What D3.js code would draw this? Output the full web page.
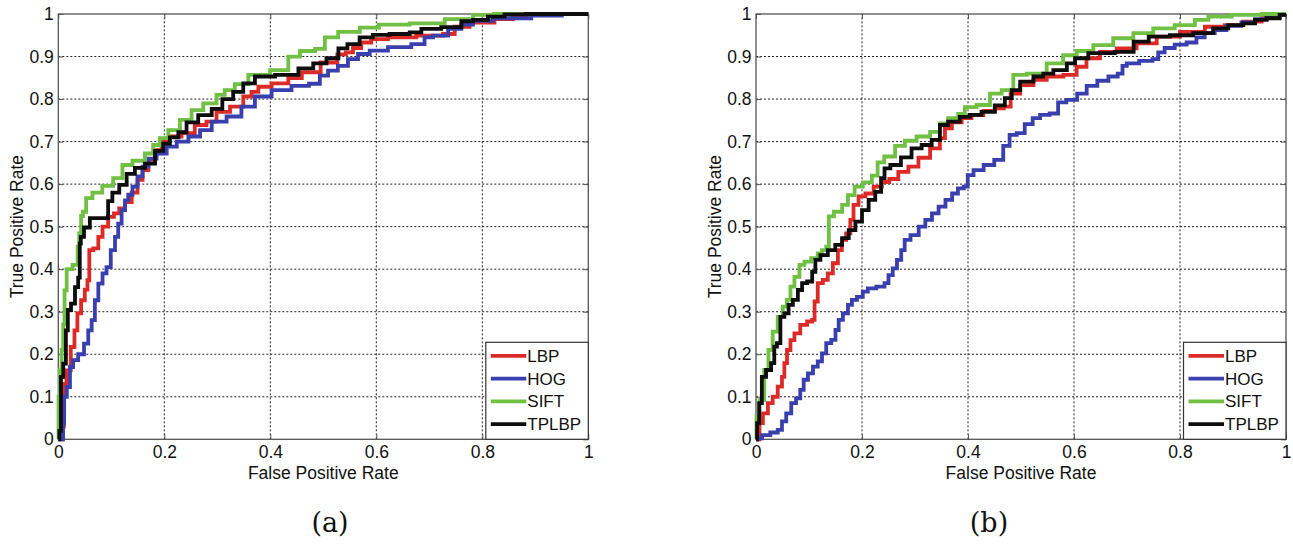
<!DOCTYPE html>
<html>
<head>
<meta charset="utf-8">
<script src="https://cdn.jsdelivr.net/npm/d3@7"></script>
<style>
  html, body { margin: 0; padding: 0; background: #fff; }
  svg { display: block; }
</style>
</head>
<body>
<svg id="chart" width="1293" height="545"></svg>
<script>
// ---- data ----------------------------------------------------------------
const seriesNames = ["LBP", "HOG", "SIFT", "TPLBP"];
const xTicks = [0, 0.2, 0.4, 0.6, 0.8, 1];
const yTicks = [0, 0.1, 0.2, 0.3, 0.4, 0.5, 0.6, 0.7, 0.8, 0.9, 1];
const xTickLabels = ["0", "0.2", "0.4", "0.6", "0.8", "1"];
const yTickLabels = ["0", "0.1", "0.2", "0.3", "0.4", "0.5", "0.6", "0.7", "0.8", "0.9", "1"];
const xTitle = "False Positive Rate";
const yTitle = "True Positive Rate";
const captions = ["(a)", "(b)"];

// panel (a) ROC points: [false positive rate, true positive rate]
const lbpA = [[0,0],[0.006,0.0],[0.009,0.03],[0.012,0.13],[0.019,0.162],[0.028,0.217],[0.033,0.256],[0.039,0.296],[0.047,0.327],[0.053,0.352],[0.057,0.374],[0.06,0.445],[0.072,0.449],[0.079,0.476],[0.088,0.5],[0.1,0.523],[0.11,0.531],[0.12,0.543],[0.132,0.558],[0.145,0.58],[0.154,0.61],[0.164,0.633],[0.176,0.657],[0.189,0.68],[0.201,0.7],[0.22,0.712],[0.245,0.72],[0.27,0.739],[0.289,0.747],[0.308,0.77],[0.34,0.782],[0.358,0.806],[0.371,0.817],[0.384,0.829],[0.421,0.837],[0.447,0.849],[0.472,0.863],[0.518,0.886],[0.535,0.905],[0.55,0.91],[0.562,0.92],[0.581,0.933],[0.6,0.941],[0.644,0.945],[0.707,0.949],[0.745,0.953],[0.751,0.97],[0.801,0.98],[0.845,0.988],[0.87,0.996],[0.9,1],[1,1]];
const hogA = [[0,0],[0.009,0.0],[0.009,0.037],[0.013,0.1],[0.019,0.123],[0.025,0.17],[0.031,0.186],[0.044,0.2],[0.053,0.225],[0.06,0.256],[0.066,0.28],[0.072,0.327],[0.079,0.366],[0.088,0.39],[0.094,0.405],[0.104,0.445],[0.11,0.476],[0.116,0.507],[0.123,0.539],[0.129,0.562],[0.135,0.575],[0.145,0.594],[0.154,0.618],[0.164,0.641],[0.176,0.66],[0.195,0.672],[0.214,0.688],[0.233,0.7],[0.258,0.712],[0.277,0.727],[0.302,0.747],[0.333,0.759],[0.358,0.782],[0.384,0.806],[0.421,0.821],[0.459,0.831],[0.487,0.836],[0.5,0.855],[0.518,0.867],[0.537,0.878],[0.556,0.894],[0.575,0.906],[0.6,0.914],[0.644,0.922],[0.688,0.929],[0.694,0.945],[0.72,0.949],[0.751,0.965],[0.77,0.975],[0.795,0.984],[0.845,0.99],[0.94,0.996],[0.96,1],[1,1]];
const siftA = [[0,0],[0.001,0.1],[0.005,0.162],[0.0075,0.21],[0.011,0.27],[0.0126,0.35],[0.019,0.4],[0.035,0.41],[0.038,0.453],[0.041,0.484],[0.045,0.525],[0.048,0.535],[0.057,0.567],[0.072,0.58],[0.094,0.596],[0.113,0.614],[0.129,0.645],[0.151,0.655],[0.176,0.672],[0.182,0.692],[0.201,0.708],[0.214,0.727],[0.245,0.751],[0.258,0.774],[0.289,0.79],[0.308,0.81],[0.32,0.821],[0.346,0.835],[0.371,0.857],[0.428,0.868],[0.44,0.9],[0.472,0.913],[0.497,0.918],[0.509,0.945],[0.547,0.958],[0.591,0.968],[0.619,0.975],[0.707,0.978],[0.751,0.988],[0.814,0.998],[0.83,1],[1,1]];
const tplbpA = [[0,0],[0.004,0.02],[0.006,0.147],[0.0126,0.178],[0.016,0.256],[0.02,0.304],[0.028,0.319],[0.035,0.358],[0.04,0.38],[0.041,0.46],[0.044,0.476],[0.053,0.498],[0.066,0.52],[0.091,0.52],[0.097,0.56],[0.107,0.58],[0.123,0.598],[0.135,0.624],[0.154,0.638],[0.173,0.648],[0.192,0.678],[0.204,0.695],[0.217,0.71],[0.236,0.722],[0.248,0.745],[0.28,0.762],[0.299,0.777],[0.32,0.8],[0.34,0.817],[0.358,0.837],[0.384,0.853],[0.434,0.857],[0.472,0.872],[0.49,0.884],[0.522,0.896],[0.535,0.919],[0.556,0.929],[0.581,0.945],[0.606,0.951],[0.644,0.953],[0.682,0.957],[0.688,0.965],[0.757,0.969],[0.764,0.983],[0.801,0.986],[0.82,0.994],[0.864,0.999],[0.9,1],[1,1]];

// panel (b) ROC points
const lbpB = [[0,0],[0.005,0.0],[0.008,0.038],[0.018,0.061],[0.027,0.085],[0.036,0.1],[0.046,0.124],[0.052,0.147],[0.055,0.179],[0.062,0.21],[0.068,0.233],[0.077,0.249],[0.09,0.269],[0.103,0.277],[0.109,0.281],[0.112,0.324],[0.121,0.367],[0.131,0.375],[0.14,0.39],[0.15,0.414],[0.159,0.445],[0.165,0.469],[0.175,0.484],[0.181,0.516],[0.187,0.551],[0.2,0.571],[0.213,0.578],[0.231,0.594],[0.244,0.605],[0.259,0.612],[0.278,0.629],[0.297,0.641],[0.316,0.662],[0.341,0.684],[0.353,0.708],[0.36,0.731],[0.379,0.745],[0.397,0.755],[0.416,0.762],[0.442,0.772],[0.46,0.778],[0.475,0.782],[0.486,0.813],[0.511,0.833],[0.536,0.845],[0.561,0.853],[0.599,0.857],[0.611,0.876],[0.636,0.896],[0.662,0.911],[0.699,0.919],[0.737,0.931],[0.775,0.947],[0.825,0.958],[0.869,0.97],[0.9,0.974],[0.938,0.982],[0.97,0.994],[1,1]];
const hogB = [[0,0],[0.005,0.002],[0.018,0.01],[0.036,0.016],[0.046,0.022],[0.052,0.042],[0.062,0.061],[0.071,0.085],[0.08,0.096],[0.087,0.116],[0.093,0.14],[0.103,0.155],[0.112,0.171],[0.121,0.183],[0.128,0.202],[0.137,0.226],[0.147,0.234],[0.153,0.257],[0.159,0.281],[0.169,0.296],[0.178,0.316],[0.184,0.328],[0.197,0.335],[0.206,0.347],[0.216,0.355],[0.238,0.359],[0.247,0.367],[0.253,0.386],[0.263,0.402],[0.269,0.422],[0.279,0.445],[0.282,0.469],[0.301,0.48],[0.313,0.5],[0.326,0.516],[0.338,0.531],[0.351,0.547],[0.364,0.563],[0.376,0.578],[0.386,0.59],[0.398,0.594],[0.401,0.621],[0.42,0.633],[0.439,0.645],[0.46,0.657],[0.473,0.69],[0.484,0.716],[0.5,0.72],[0.514,0.741],[0.53,0.755],[0.542,0.763],[0.566,0.766],[0.574,0.792],[0.597,0.798],[0.615,0.813],[0.633,0.831],[0.655,0.843],[0.675,0.853],[0.69,0.86],[0.693,0.878],[0.706,0.884],[0.74,0.89],[0.756,0.894],[0.762,0.91],[0.78,0.92],[0.8,0.928],[0.825,0.933],[0.837,0.945],[0.856,0.955],[0.875,0.962],[0.9,0.972],[0.932,0.98],[0.951,0.988],[0.976,0.992],[1,0.998]];
const siftB = [[0,0],[0.002,0.053],[0.011,0.092],[0.02,0.163],[0.027,0.21],[0.036,0.253],[0.046,0.288],[0.055,0.312],[0.062,0.328],[0.068,0.359],[0.077,0.382],[0.087,0.41],[0.096,0.418],[0.112,0.426],[0.121,0.437],[0.128,0.445],[0.137,0.453],[0.138,0.524],[0.156,0.535],[0.169,0.551],[0.178,0.574],[0.194,0.594],[0.209,0.604],[0.228,0.62],[0.231,0.651],[0.253,0.665],[0.272,0.69],[0.29,0.702],[0.316,0.712],[0.341,0.723],[0.353,0.743],[0.372,0.755],[0.391,0.765],[0.397,0.781],[0.435,0.786],[0.448,0.813],[0.479,0.821],[0.492,0.857],[0.53,0.86],[0.567,0.884],[0.592,0.903],[0.618,0.913],[0.655,0.927],[0.693,0.943],[0.731,0.955],[0.768,0.966],[0.812,0.974],[0.844,0.986],[0.863,0.994],[0.932,0.998],[0.976,1],[1,1]];
const tplbpB = [[0,0],[0.004,0.038],[0.008,0.085],[0.014,0.147],[0.024,0.163],[0.033,0.179],[0.036,0.218],[0.043,0.226],[0.049,0.288],[0.058,0.296],[0.065,0.316],[0.074,0.328],[0.084,0.351],[0.09,0.367],[0.103,0.371],[0.109,0.394],[0.115,0.422],[0.128,0.433],[0.143,0.445],[0.156,0.457],[0.169,0.473],[0.181,0.492],[0.194,0.512],[0.206,0.539],[0.219,0.563],[0.231,0.582],[0.241,0.614],[0.244,0.637],[0.263,0.645],[0.284,0.663],[0.303,0.684],[0.322,0.692],[0.341,0.704],[0.353,0.739],[0.372,0.747],[0.397,0.758],[0.41,0.763],[0.441,0.77],[0.46,0.785],[0.479,0.802],[0.486,0.821],[0.511,0.841],[0.536,0.853],[0.548,0.86],[0.574,0.868],[0.599,0.884],[0.605,0.896],[0.649,0.908],[0.705,0.911],[0.72,0.935],[0.762,0.947],[0.8,0.95],[0.85,0.955],[0.875,0.966],[0.907,0.974],[0.932,0.978],[0.951,0.986],[0.976,0.99],[1,0.998]];

// ---- styling & layout ----------------------------------------------------
const lineColors = ["#dc2b27", "#3a3fae", "#6fc043", "#0d0d0d"];
const font = "'Liberation Sans', Arial, Helvetica, sans-serif";

const panels = [
  { left: 58.3, top: 14, width: 530, height: 425.3, yTitleX: 22.5, capX: 330,
    curves: [lbpA, hogA, siftA, tplbpA], caption: captions[0] },
  { left: 756, top: 14, width: 530, height: 425.3, yTitleX: 720.5, capX: 989,
    curves: [lbpB, hogB, siftB, tplbpB], caption: captions[1] }
];

const svg = d3.select("#chart");

panels.forEach(p => {
  const x = d3.scaleLinear().domain([0, 1]).range([p.left, p.left + p.width]);
  const y = d3.scaleLinear().domain([0, 1]).range([p.top + p.height, p.top]);
  const g = svg.append("g");

  // dotted grid
  g.append("g").selectAll("line").data(xTicks.slice(1, -1)).join("line")
    .attr("x1", d => x(d)).attr("x2", d => x(d))
    .attr("y1", y(0)).attr("y2", y(1))
    .attr("stroke", "#222").attr("stroke-width", 1)
    .attr("stroke-dasharray", "2,2");
  g.append("g").selectAll("line").data(yTicks.slice(1, -1)).join("line")
    .attr("y1", d => y(d)).attr("y2", d => y(d))
    .attr("x1", x(0)).attr("x2", x(1))
    .attr("stroke", "#222").attr("stroke-width", 1)
    .attr("stroke-dasharray", "2,2");

  // axes with inward ticks on all four sides
  const axisStyle = sel => {
    sel.select(".domain").remove();
    sel.selectAll(".tick line").attr("stroke", "#555");
    sel.selectAll(".tick text").attr("fill", "#111")
      .style("font-family", font).style("font-size", "17.5px");
  };
  g.append("g").attr("transform", `translate(0,${y(0)})`)
    .call(d3.axisBottom(x).tickValues(xTicks).tickSizeInner(-5).tickSizeOuter(0)
      .tickPadding(6).tickFormat((d, i) => xTickLabels[i]))
    .call(axisStyle);
  g.append("g").attr("transform", `translate(0,${y(1)})`)
    .call(d3.axisTop(x).tickValues(xTicks).tickSizeInner(-5).tickSizeOuter(0).tickFormat(""))
    .call(axisStyle);
  g.append("g").attr("transform", `translate(${x(0)},0)`)
    .call(d3.axisLeft(y).tickValues(yTicks).tickSizeInner(-5).tickSizeOuter(0)
      .tickPadding(4.5).tickFormat((d, i) => yTickLabels[i]))
    .call(axisStyle);
  g.append("g").attr("transform", `translate(${x(1)},0)`)
    .call(d3.axisRight(y).tickValues(yTicks).tickSizeInner(-5).tickSizeOuter(0).tickFormat(""))
    .call(axisStyle);

  // box
  g.append("rect")
    .attr("x", x(0)).attr("y", y(1))
    .attr("width", x(1) - x(0)).attr("height", y(0) - y(1))
    .attr("fill", "none").attr("stroke", "#555").attr("stroke-width", 1.3);

  // ROC curves, drawn as staircases
  const line = d3.line().x(d => x(d[0])).y(d => y(d[1])).curve(d3.curveStep);
  p.curves.forEach((c, i) => {
    g.append("path").datum(c)
      .attr("d", line)
      .attr("fill", "none")
      .attr("stroke", lineColors[i])
      .attr("stroke-width", 3.8)
      .attr("stroke-linejoin", "miter")
      .attr("stroke-linecap", "butt");
  });

  // axis titles
  g.append("text")
    .attr("x", (x(0) + x(1)) / 2).attr("y", 479)
    .attr("text-anchor", "middle")
    .style("font-family", font).style("font-size", "17.5px").attr("fill", "#111")
    .text(xTitle);
  g.append("text")
    .attr("transform", `translate(${p.yTitleX},${(y(0) + y(1)) / 2}) rotate(-90)`)
    .attr("text-anchor", "middle")
    .style("font-family", font).style("font-size", "17.5px").attr("fill", "#111")
    .text(yTitle);

  // legend (lower right corner)
  const lgW = 102.5, lgH = 97, rowH = 22.8;
  const lgX = x(1) - lgW, lgY = y(0) - lgH;
  const lg = g.append("g").attr("transform", `translate(${lgX},${lgY})`);
  lg.append("rect").attr("width", lgW).attr("height", lgH)
    .attr("fill", "#fff").attr("stroke", "#333").attr("stroke-width", 1.2);
  seriesNames.forEach((name, i) => {
    const cy = 13.5 + i * rowH;
    lg.append("line").attr("x1", 5).attr("x2", 40.5).attr("y1", cy).attr("y2", cy)
      .attr("stroke", lineColors[i]).attr("stroke-width", 3.8);
    lg.append("text").attr("x", 41.5).attr("y", cy + 6)
      .style("font-family", font).style("font-size", "17px").attr("fill", "#111")
      .text(name);
  });

  // panel caption
  svg.append("text")
    .attr("x", p.capX).attr("y", 532)
    .attr("text-anchor", "middle")
    .style("font-family", "'DejaVu Serif', 'Liberation Serif', serif")
    .style("font-size", "27px").attr("fill", "#111")
    .text(p.caption);
});
</script>
</body>
</html>
